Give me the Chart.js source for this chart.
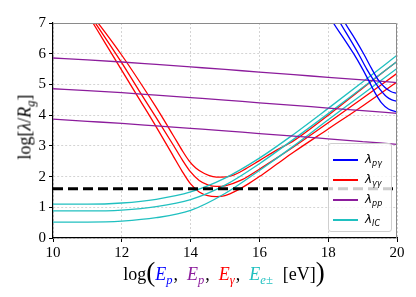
<!DOCTYPE html>
<html>
<head>
<meta charset="utf-8">
<title>log lambda vs energy</title>
<script src="https://cdn.jsdelivr.net/npm/chart.js@4.4.1/dist/chart.umd.min.js"></script>
<style>
    html, body { margin: 0; padding: 0; background: #fff; }
    #box { position: relative; width: 416px; height: 297px; overflow: hidden; }
    #lambdaChart { position: absolute; left: 0; top: 0; }
    .ytitle { position: absolute; left: 25px; top: 127px; transform: translate(-50%, -50%) rotate(-90deg);
              font-family: 'Liberation Serif', serif; font-size: 18px; white-space: nowrap; color: #000; }
    .xtitle { position: absolute; left: 224px; top: 271px; transform: translate(-50%, -50%);
              font-family: 'Liberation Serif', serif; font-size: 18px; white-space: nowrap; color: #000; }
    .xtitle .par { font-size: 27px; font-weight: 100; position: relative; top: 1px; }
    .xtitle i { margin-right: 1px; }
    sub { font-size: 70%; vertical-align: -4px; line-height: 0; }
    .legend { position: absolute; left: 328px; top: 143px; width: 64px; height: 89px; box-sizing: border-box;
              background: rgba(255, 255, 255, 0.8); border: 1px solid #cfcfcf; border-radius: 3px; }
    .legend .swatch { position: absolute; left: 4px; width: 25px; height: 2px; }
    .legend .lbl { position: absolute; left: 36px; font-family: 'DejaVu Sans', sans-serif; font-style: italic;
                   font-size: 12px; line-height: 14px; white-space: nowrap; color: #000; }
    .legend .lbl sub { font-size: 8px; vertical-align: -3px; }
</style>
</head>
<body>
<div id="box">
    <canvas id="lambdaChart" width="416" height="297"></canvas>
    <div class="ytitle">log[<i>λ</i>/<i>R<sub>g</sub></i>]</div>
    <div class="xtitle">log<span class="par">(</span><i style="color:#0000ff">E<sub>p</sub></i>,&nbsp; <i style="color:#8c1c9c">E<sub>p</sub></i>,&nbsp; <i style="color:#ff0000">E<sub>γ</sub></i>,&nbsp; <i style="color:#20c0c0">E<sub>e±</sub></i>&nbsp; [eV]<span class="par">)</span></div>
    <div class="legend" id="legend"></div>
</div>

<script>
// ===============================
// Data
// ===============================
const xTicks = [10, 12, 14, 16, 18, 20];
const yTicks = [0, 1, 2, 3, 4, 5, 6, 7];

// lambda_pp (purple)
const ppX  = [10, 11, 12, 13, 14, 15, 16, 17, 18, 19, 20];
const pp1  = [5.86, 5.80, 5.73, 5.65, 5.57, 5.49, 5.40, 5.32, 5.23, 5.15, 5.06];
const pp2  = [4.86, 4.80, 4.73, 4.65, 4.57, 4.49, 4.40, 4.32, 4.23, 4.15, 4.06];
const pp3  = [3.87, 3.80, 3.73, 3.65, 3.57, 3.49, 3.40, 3.32, 3.23, 3.14, 3.05];

// lambda_IC (cyan)
const icX  = [10, 11, 12, 13, 14, 15, 16, 17, 18, 19, 20];
const ic1  = [1.10, 1.10, 1.14, 1.26, 1.50, 1.95, 2.60, 3.38, 4.22, 5.08, 5.95];
const ic2  = [0.88, 0.88, 0.91, 1.02, 1.25, 1.72, 2.42, 3.22, 4.05, 4.90, 5.75];
const ic3  = [0.52, 0.52, 0.55, 0.66, 0.90, 1.45, 2.20, 3.00, 3.85, 4.68, 5.52];

// lambda_gammagamma (red)
const gg1X = [11.0, 11.5, 12.0, 12.5, 13.0, 13.5, 13.75, 14.0, 14.25, 14.5, 14.75, 15.0, 15.35, 15.7, 16.0, 16.5, 17.0, 18.0, 19.0, 20.0];
const gg1  = [7.30, 6.38, 5.46, 4.54, 3.62, 2.66, 2.18, 1.76, 1.50, 1.38, 1.35, 1.38, 1.55, 1.78, 2.00, 2.40, 2.80, 3.55, 4.30, 5.08];
const gg2X = [11.05, 11.5, 12.0, 12.5, 13.0, 13.5, 13.75, 14.0, 14.25, 14.5, 14.75, 15.0, 15.5, 16.0, 16.5, 17.0, 18.0, 19.0, 20.0];
const gg2  = [7.30, 6.55, 5.70, 4.80, 3.92, 3.02, 2.56, 2.15, 1.87, 1.73, 1.68, 1.70, 1.90, 2.24, 2.60, 2.97, 3.75, 4.55, 5.36];
const gg3X = [11.1, 11.5, 12.0, 12.5, 13.0, 13.5, 13.75, 13.95, 14.15, 14.4, 14.65, 14.9, 15.2, 15.6, 16.0, 16.5, 17.0, 18.0, 19.0, 20.0];
const gg3  = [7.30, 6.72, 5.95, 5.12, 4.25, 3.33, 2.86, 2.52, 2.28, 2.10, 2.00, 1.98, 2.03, 2.25, 2.52, 2.86, 3.17, 4.00, 4.88, 5.75];

// lambda_pgamma (blue)
const pg1X = [18.0, 18.15, 18.45, 18.74, 19.0, 19.17, 19.35, 19.55, 19.75, 20.0];
const pg1  = [7.30, 7.00, 6.50, 6.00, 5.50, 5.14, 4.75, 4.40, 4.20, 4.10];
const pg2X = [18.2, 18.35, 18.62, 18.88, 19.12, 19.32, 19.5, 19.7, 19.85, 20.0];
const pg2  = [7.30, 7.00, 6.50, 6.00, 5.50, 5.14, 4.85, 4.60, 4.50, 4.45];
const pg3X = [18.35, 18.49, 18.77, 19.03, 19.27, 19.46, 19.65, 19.82, 20.0];
const pg3  = [7.30, 7.00, 6.50, 6.00, 5.50, 5.14, 4.90, 4.77, 4.71];

// dashed reference level
const refX = [10, 20];
const refY = [1.6, 1.6];

const legendNames = [['pγ', '#0000ff'], ['γγ', '#ff0000'], ['pp', '#8c1c9c'], ['IC', '#20c0c0']];

document.addEventListener("DOMContentLoaded", function () {
    const pts = (xs, ys) => xs.map((x, i) => ({ x: x, y: ys[i] }));
    const line = (xs, ys, color, extra) => Object.assign({
        data: pts(xs, ys),
        borderColor: color,
        borderWidth: 1.3,
        pointRadius: 0,
        fill: false,
        cubicInterpolationMode: 'monotone',
        order: 2
    }, extra || {});

    // ===============================
    // Top / right spines in grey
    // ===============================
    const frame = {
        id: 'frame',
        afterDatasetsDraw(chart) {
            const { ctx, chartArea: a } = chart;
            ctx.save();
            ctx.strokeStyle = '#8a8a8a';
            ctx.lineWidth = 1;
            ctx.beginPath();
            ctx.moveTo(a.left, a.top + 0.5);
            ctx.lineTo(a.right - 0.5, a.top + 0.5);
            ctx.lineTo(a.right - 0.5, a.bottom);
            ctx.stroke();
            ctx.restore();
        }
    };

    const ctx = document.getElementById('lambdaChart');
    new Chart(ctx.getContext('2d'), {
        type: 'line',
        data: {
            datasets: [
                line(refX, refY, '#000000', { borderWidth: 3, borderDash: [10, 5], cubicInterpolationMode: 'default', order: 0 }),
                line(pg1X, pg1, '#0000ff'),
                line(pg2X, pg2, '#0000ff'),
                line(pg3X, pg3, '#0000ff'),
                line(ppX, pp1, '#8c1c9c'),
                line(ppX, pp2, '#8c1c9c'),
                line(ppX, pp3, '#8c1c9c'),
                line(icX, ic1, '#20c0c0'),
                line(icX, ic2, '#20c0c0'),
                line(icX, ic3, '#20c0c0'),
                line(gg1X, gg1, '#ff0000'),
                line(gg2X, gg2, '#ff0000'),
                line(gg3X, gg3, '#ff0000')
            ]
        },
        options: {
            responsive: false,
            animation: false,
            layout: { padding: { left: 0, top: 23, right: 19, bottom: 0 } },
            plugins: { legend: { display: false }, tooltip: { enabled: false } },
            scales: {
                x: {
                    type: 'linear',
                    min: 10, max: 20,
                    afterBuildTicks: s => { s.ticks = xTicks.map(v => ({ value: v })); },
                    afterFit: s => { s.height = 59; },
                    ticks: { color: '#000', padding: 2, font: { family: 'Liberation Serif', size: 15 } },
                    grid: { color: '#d4d4d4', lineWidth: 1, tickLength: 4, tickColor: '#000', tickWidth: 1 },
                    border: { color: '#000', width: 1.2, dash: [2, 2] }
                },
                y: {
                    type: 'linear',
                    min: 0, max: 7,
                    afterBuildTicks: s => { s.ticks = yTicks.map(v => ({ value: v })); },
                    afterFit: s => { s.width = 53; },
                    ticks: { color: '#000', padding: 3, font: { family: 'Liberation Serif', size: 15 } },
                    grid: { color: '#d4d4d4', lineWidth: 1, tickLength: 4, tickColor: '#000', tickWidth: 1 },
                    border: { color: '#000', width: 1.2, dash: [2, 2] }
                }
            }
        },
        plugins: [frame]
    });

    // ===============================
    // Legend (inside the axes, lower right)
    // ===============================
    const legend = document.getElementById('legend');
    legendNames.forEach((item, i) => {
        const top = 16 + i * 20;
        const sw = document.createElement('div');
        sw.className = 'swatch';
        sw.style.top = (top - 1) + 'px';
        sw.style.background = item[1];
        legend.appendChild(sw);
        const lbl = document.createElement('div');
        lbl.className = 'lbl';
        lbl.style.top = (top - 8) + 'px';
        lbl.innerHTML = 'λ<sub>' + item[0] + '</sub>';
        legend.appendChild(lbl);
    });
});
</script>
</body>
</html>
